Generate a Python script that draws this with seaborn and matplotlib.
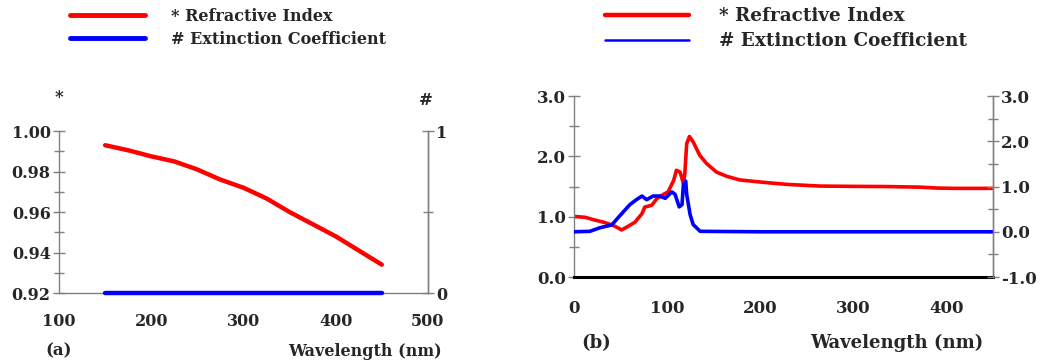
import numpy as np
import pandas as pd
import matplotlib
matplotlib.use("Agg")
import matplotlib.pyplot as plt
import seaborn as sns
from matplotlib.lines import Line2D
from matplotlib.ticker import MultipleLocator, FixedLocator

# ---------------- data ----------------
# panel (a)
wl_a = [150, 175, 200, 225, 250, 275, 300, 325, 350, 375, 400, 425, 450]
n_a = [0.993, 0.9905, 0.9875, 0.985, 0.981, 0.976, 0.972, 0.9667, 0.960, 0.954, 0.948, 0.941, 0.934]
wl_a_k = [150, 250, 350, 450]
k_a = [0.0, 0.0, 0.0, 0.0]

# panel (b)
wl_b_n = [0, 12, 21, 31.5, 42, 49, 51, 57, 65.5, 73, 76, 83.5, 89, 96, 101, 107, 110, 114,
          117.5, 119, 121, 124, 128, 135, 142.5, 153, 164, 178, 200, 228.6, 264, 300, 336,
          372, 390, 408, 450]
n_b = [1.005, 0.99, 0.95, 0.91, 0.856, 0.80, 0.78, 0.83, 0.91, 1.05, 1.16, 1.19, 1.30, 1.37,
       1.41, 1.60, 1.77, 1.74, 1.55, 1.71, 2.21, 2.33, 2.24, 2.02, 1.88, 1.74, 1.67, 1.61,
       1.575, 1.536, 1.508, 1.503, 1.50, 1.49, 1.475, 1.47, 1.47]
wl_b_k = [0, 17, 28, 40.5, 49, 60, 67, 73, 78, 85, 92, 98, 105, 108.5, 113, 116, 117.5, 120,
          121, 124.7, 128, 135.5, 200, 300, 450]
k_b = [0.0, 0.01, 0.09, 0.15, 0.35, 0.60, 0.71, 0.79, 0.71, 0.79, 0.79, 0.74, 0.88, 0.83,
       0.55, 0.60, 1.05, 1.12, 0.83, 0.38, 0.16, 0.01, 0.0, 0.0, 0.0]

legend_labels = ["* Refractive Index", "# Extinction Coefficient"]
xlabel = "Wavelength (nm)"

# ---------------- style ----------------
sns.set_style("white")
FONT = ["DejaVu Serif", "Liberation Serif"]
plt.rcParams["font.family"] = FONT
plt.rcParams["font.weight"] = "bold"

RED = "#ff0000"
BLUE = "#0000ff"
GRAY = "#808080"

fig = plt.figure(figsize=(10.54, 3.64), dpi=100)

def style_axis(ax, lab_size):
    for s in ["left", "right", "bottom"]:
        ax.spines[s].set_color(GRAY)
        ax.spines[s].set_linewidth(1.0)
    ax.spines["top"].set_visible(False)
    ax.tick_params(which="both", direction="inout", color=GRAY, width=1.0,
                   labelsize=lab_size)
    ax.tick_params(which="major", length=9)
    ax.tick_params(which="minor", length=7)
    ax.tick_params(axis="y", which="major", pad=1.5)

# ---------- panel (a) ----------
axa = fig.add_axes([0.056, 0.195, 0.350, 0.445])
axa2 = axa.twinx()
sns.lineplot(x=wl_a, y=n_a, ax=axa, color=RED, lw=3.2)
sns.lineplot(x=wl_a_k, y=k_a, ax=axa2, color=BLUE, lw=3.2, clip_on=False, zorder=5)
axa.set_xlim(100, 500)
axa.set_ylim(0.92, 1.00)
axa2.set_ylim(0, 1)
axa.set_xticks([100, 200, 300, 400, 500])
axa.xaxis.set_minor_locator(MultipleLocator(50))
axa.set_yticks([0.92, 0.94, 0.96, 0.98, 1.00])
axa.set_yticklabels(["0.92", "0.94", "0.96", "0.98", "1.00"])
axa.yaxis.set_minor_locator(MultipleLocator(0.01))
axa2.set_yticks([0, 1])
axa2.set_yticklabels(["0", "1"])
axa2.yaxis.set_minor_locator(FixedLocator([0.5]))
style_axis(axa, 11.5)
style_axis(axa2, 11.5)
axa.tick_params(axis="x", which="major", pad=10)
axa2.spines["left"].set_visible(False)
axa2.spines["bottom"].set_visible(False)
axa.set_xlabel("")
axa.set_ylabel("")
axa2.set_ylabel("")
axa.text(0.0, 1.21, "*", transform=axa.transAxes, ha="center", va="center", fontsize=12)
axa.text(0.995, 1.19, "#", transform=axa.transAxes, ha="center", va="center", fontsize=12)
axa.text(0.0, -0.36, "(a)", transform=axa.transAxes, ha="center", va="center", fontsize=12)
axa.text(1.038, -0.36, xlabel, transform=axa.transAxes, ha="right", va="center", fontsize=11.5)

handles_a = [Line2D([], [], color=RED, lw=3.5), Line2D([], [], color=BLUE, lw=3.5)]
fig.legend(handles_a, legend_labels, loc="upper left", bbox_to_anchor=(0.0664, 0.978),
           frameon=False, handlelength=4.7, handletextpad=1.6, labelspacing=0.36,
           borderpad=0, borderaxespad=0,
           prop={"family": FONT, "weight": "bold", "size": 11.5})

# ---------- panel (b) ----------
axb = fig.add_axes([0.5446, 0.239, 0.3975, 0.497])
axb2 = axb.twinx()
sns.lineplot(x=wl_b_n, y=n_b, ax=axb, color=RED, lw=2.6)
sns.lineplot(x=wl_b_k, y=k_b, ax=axb2, color=BLUE, lw=2.6)
axb.set_xlim(0, 450)
axb.set_ylim(0, 3)
axb2.set_ylim(-1, 3)
axb.set_xticks([0, 100, 200, 300, 400])
axb.xaxis.set_minor_locator(MultipleLocator(50))
axb.set_yticks([0, 1, 2, 3])
axb.set_yticklabels(["0.0", "1.0", "2.0", "3.0"])
axb.yaxis.set_minor_locator(MultipleLocator(0.5))
axb2.set_yticks([-1, 0, 1, 2, 3])
axb2.set_yticklabels(["-1.0", "0.0", "1.0", "2.0", "3.0"])
axb2.yaxis.set_minor_locator(MultipleLocator(0.5))
style_axis(axb, 12)
style_axis(axb2, 12)
axb.spines["bottom"].set_color("black")
axb.spines["bottom"].set_linewidth(2.2)
axb.tick_params(axis="x", which="both", color="black", width=2.2, length=9)
axb.tick_params(axis="x", which="major", pad=12)
axb2.spines["left"].set_visible(False)
axb2.spines["bottom"].set_visible(False)
axb.set_xlabel("")
axb.set_ylabel("")
axb2.set_ylabel("")
axb.text(0.052, -0.365, "(b)", transform=axb.transAxes, ha="center", va="center", fontsize=13)
axb.text(0.976, -0.365, xlabel, transform=axb.transAxes, ha="right", va="center", fontsize=13)

handles_b = [Line2D([], [], color=RED, lw=3.2), Line2D([], [], color=BLUE, lw=1.8)]
fig.legend(handles_b, legend_labels, loc="upper left", bbox_to_anchor=(0.574, 0.98),
           frameon=False, handlelength=4.6, handletextpad=1.6, labelspacing=0.38,
           borderpad=0, borderaxespad=0,
           prop={"family": FONT, "weight": "bold", "size": 13.2})

fig.savefig("out.png", dpi=100)
